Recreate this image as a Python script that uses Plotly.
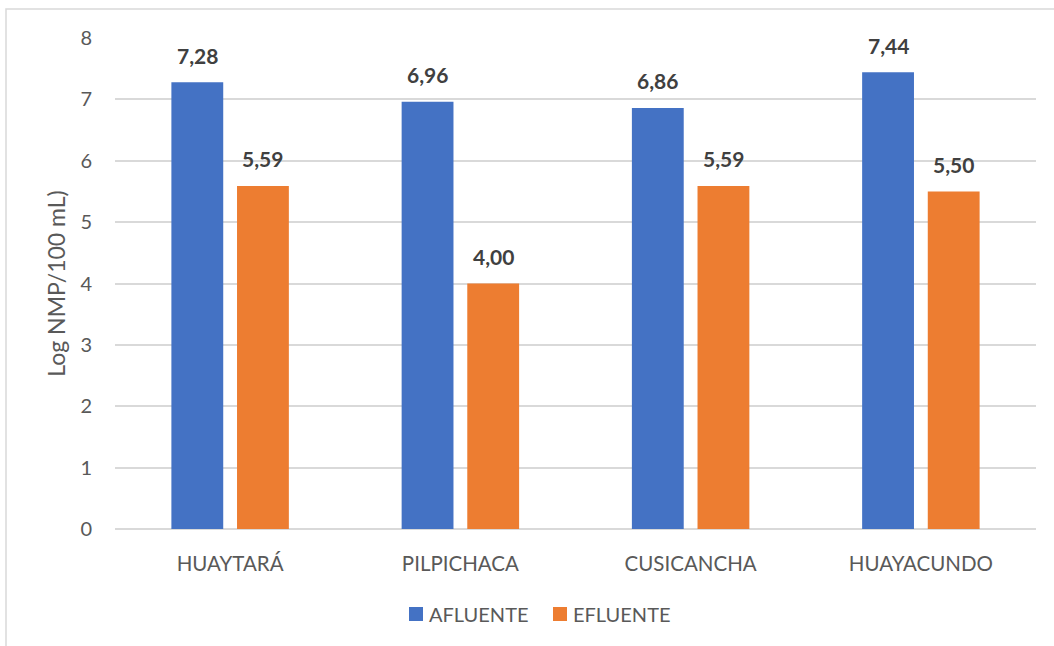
import plotly.graph_objects as go

sites = ["HUAYTARÁ", "PILPICHACA", "CUSICANCHA", "HUAYACUNDO"]
afluente = [7.28, 6.96, 6.86, 7.44]
efluente = [5.59, 4.00, 5.59, 5.50]
y_ticks = [0, 1, 2, 3, 4, 5, 6, 7, 8]
series_names = ["AFLUENTE", "EFLUENTE"]

FONT = "Lato, 'Open Sans', sans-serif"
BLUE = "#4472C4"
ORANGE = "#ED7D31"
TEXT = "#595959"

W, H = 1054, 646
ml, mr, mt, mb = 115, 18, 38, 117
pw = W - ml - mr
ph = H - mt - mb


def px_x(px):
    return (px - ml) / pw


def px_y(py):
    return (H - mb - py) / ph


fig = go.Figure()
fig.add_trace(go.Bar(name=series_names[0], x=sites, y=afluente, marker_color=BLUE,
                     marker_line_width=0, showlegend=False))
fig.add_trace(go.Bar(name=series_names[1], x=sites, y=efluente, marker_color=ORANGE,
                     marker_line_width=0, showlegend=False))

# value labels above each bar
slot = pw / len(sites) * 0.57 / 2
for vals, sign in ((afluente, -1), (efluente, 1)):
    for s, v in zip(sites, vals):
        fig.add_annotation(x=s, y=v, text=f"<b>{v:.2f}</b>".replace(".", ","),
                           showarrow=False, xshift=sign * slot / 2, yshift=27,
                           font=dict(family=FONT, size=21, color="#404040"),
                           xref="x", yref="y")

# legend drawn below the plot
legend_items = [(series_names[0], BLUE, 409), (series_names[1], ORANGE, 553)]
for name, col, x0 in legend_items:
    fig.add_shape(type="rect", xref="paper", yref="paper",
                  x0=px_x(x0), x1=px_x(x0 + 14), y0=px_y(621), y1=px_y(607),
                  line=dict(width=0), fillcolor=col)
    fig.add_annotation(x=px_x(x0 + 18), y=px_y(614), xref="paper", yref="paper",
                       text=name, showarrow=False, xanchor="left", yanchor="middle",
                       font=dict(family=FONT, size=20, color=TEXT))

# chart frame
fig.add_shape(type="rect", xref="paper", yref="paper",
              x0=px_x(6), x1=px_x(1062), y0=px_y(652), y1=px_y(9),
              line=dict(color="#D9D9D9", width=1.5), fillcolor="rgba(0,0,0,0)")

fig.update_layout(
    width=W, height=H,
    margin=dict(l=ml, r=mr, t=mt, b=mb),
    paper_bgcolor="white", plot_bgcolor="white",
    barmode="group", bargap=0.43, bargroupgap=0.21,
    font=dict(family=FONT, color=TEXT),
    showlegend=False,
    xaxis=dict(showgrid=False, showline=False, ticks="outside",
               tickcolor="rgba(0,0,0,0)", ticklen=16, tickfont=dict(size=20.5)),
    yaxis=dict(range=[0, 8], tickvals=y_ticks, showgrid=True, gridcolor="#D9D9D9",
               gridwidth=1.5, zeroline=True, zerolinecolor="#D9D9D9", zerolinewidth=1.5,
               showline=False, tickfont=dict(size=20), ticks="outside",
               tickcolor="rgba(0,0,0,0)", ticklen=18,
               title=dict(text="Log NMP/100 mL)", font=dict(size=23), standoff=8)),
)

fig.write_html("out.html")
